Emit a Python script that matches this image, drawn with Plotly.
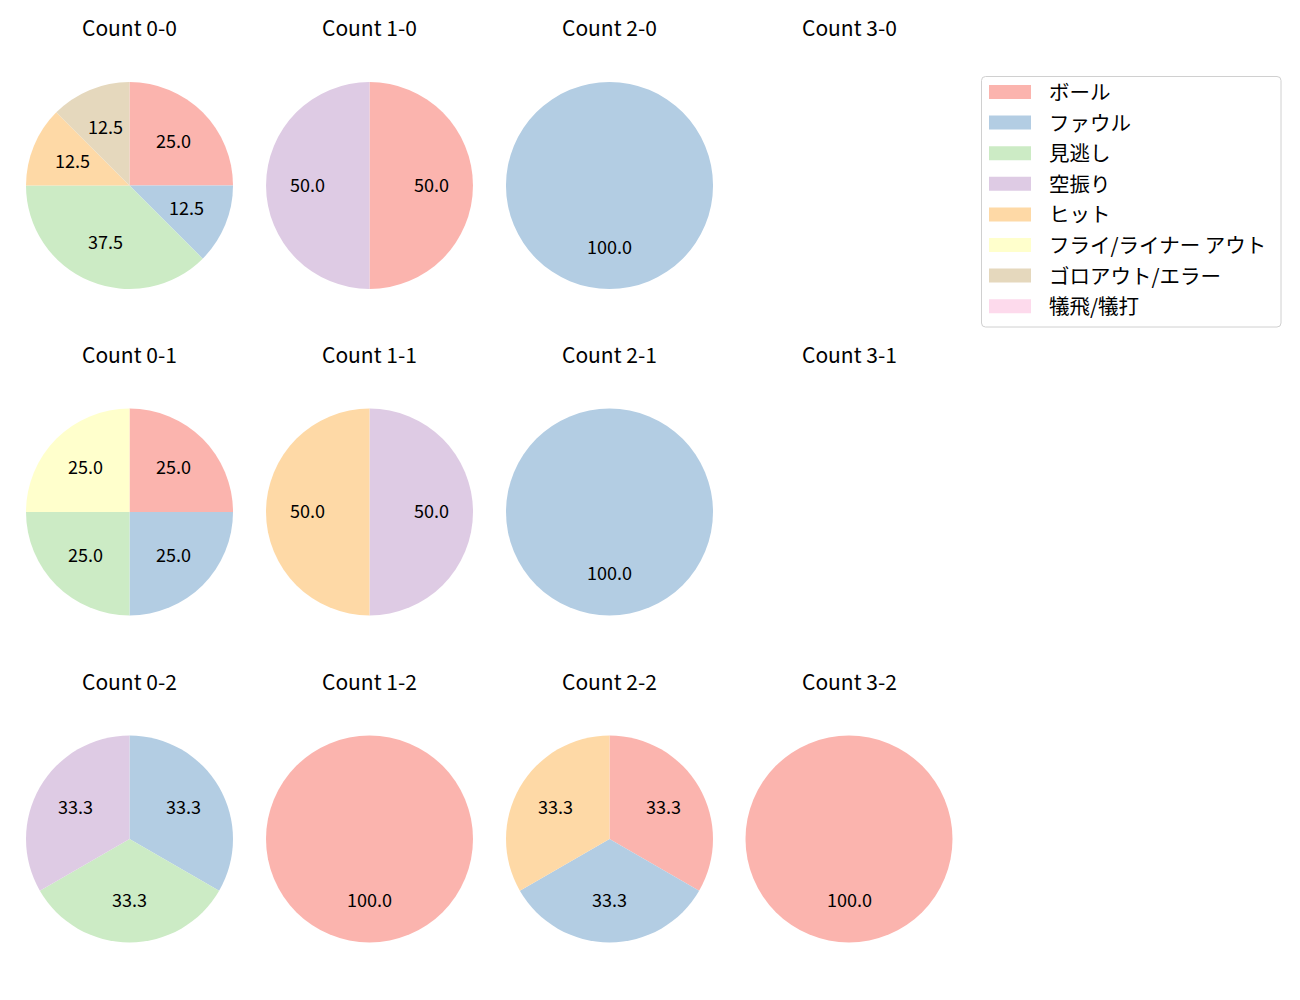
import math
import plotly.graph_objects as go

W, H = 1300, 1000

labels = ["ボール", "ファウル", "見逃し", "空振り", "ヒット",
          "フライ/ライナー アウト", "ゴロアウト/エラー", "犠飛/犠打"]
colors = ["#fbb4ae", "#b3cde3", "#ccebc5", "#decbe4", "#fed9a6",
          "#ffffcc", "#e5d8bd", "#fddaec"]

# counts per pitch-count situation, in label order
count_0_0 = [2, 1, 3, 0, 1, 0, 1, 0]
count_1_0 = [1, 0, 0, 1, 0, 0, 0, 0]
count_2_0 = [0, 1, 0, 0, 0, 0, 0, 0]
count_3_0 = [0, 0, 0, 0, 0, 0, 0, 0]
count_0_1 = [1, 1, 1, 0, 0, 1, 0, 0]
count_1_1 = [0, 0, 0, 1, 1, 0, 0, 0]
count_2_1 = [0, 1, 0, 0, 0, 0, 0, 0]
count_3_1 = [0, 0, 0, 0, 0, 0, 0, 0]
count_0_2 = [0, 1, 1, 1, 0, 0, 0, 0]
count_1_2 = [1, 0, 0, 0, 0, 0, 0, 0]
count_2_2 = [1, 1, 0, 0, 1, 0, 0, 0]
count_3_2 = [1, 0, 0, 0, 0, 0, 0, 0]

panels = [
    ("Count 0-0", count_0_0, 0, 0), ("Count 1-0", count_1_0, 0, 1),
    ("Count 2-0", count_2_0, 0, 2), ("Count 3-0", count_3_0, 0, 3),
    ("Count 0-1", count_0_1, 1, 0), ("Count 1-1", count_1_1, 1, 1),
    ("Count 2-1", count_2_1, 1, 2), ("Count 3-1", count_3_1, 1, 3),
    ("Count 0-2", count_0_2, 2, 0), ("Count 1-2", count_1_2, 2, 1),
    ("Count 2-2", count_2_2, 2, 2), ("Count 3-2", count_3_2, 2, 3),
]

FONT = "Noto Sans CJK JP, Noto Sans, sans-serif"
col_cx = [129.5, 369.5, 609.5, 849]
row_cy = [185.5, 512, 839]
R = 103.5
TITLE_OFF = 157

fig = go.Figure()
annotations = []
shapes = []

def px(x):
    return x / W

def py(y):
    return 1 - y / H

for title, vals, r, c in panels:
    cx, cy = col_cx[c], row_cy[r]
    annotations.append(dict(x=px(cx), y=py(cy - TITLE_OFF), xref="paper", yref="paper",
                            text=title, showarrow=False, xanchor="center", yanchor="middle",
                            yshift=1,
                            font=dict(family=FONT, size=21, color="#000000")))
    total = sum(vals)
    if total == 0:
        continue
    idx = [i for i, v in enumerate(vals) if v > 0]
    fig.add_trace(go.Pie(
        labels=[labels[i] for i in idx],
        values=[vals[i] for i in idx],
        marker=dict(colors=[colors[i] for i in idx], line=dict(width=0)),
        sort=False, direction="clockwise", rotation=0,
        textinfo="none", hoverinfo="label+percent", showlegend=False,
        domain=dict(x=[px(cx - R), px(cx + R)], y=[py(cy + R), py(cy - R)]),
    ))
    # percentage labels at 0.6 radius, at each wedge's mid angle
    acc = 0
    for i in idx:
        v = vals[i]
        mid = (acc + v / 2) / total * 2 * math.pi
        acc += v
        lx = cx + 0.6 * R * math.sin(mid)
        ly = cy - 0.6 * R * math.cos(mid)
        annotations.append(dict(x=px(lx), y=py(ly), xref="paper", yref="paper",
                                text=f"{v / total * 100:.1f}", showarrow=False,
                                xanchor="center", yanchor="middle", yshift=2,
                                font=dict(family=FONT, size=18, color="#000000")))

# legend (drawn manually to match the reference frame)
lx0, lx1, ly0, ly1 = 981.5, 1281, 76.5, 327
rad = 4
path = (f"M{px(lx0+rad)},{py(ly0)} L{px(lx1-rad)},{py(ly0)} "
        f"Q{px(lx1)},{py(ly0)} {px(lx1)},{py(ly0+rad)} L{px(lx1)},{py(ly1-rad)} "
        f"Q{px(lx1)},{py(ly1)} {px(lx1-rad)},{py(ly1)} L{px(lx0+rad)},{py(ly1)} "
        f"Q{px(lx0)},{py(ly1)} {px(lx0)},{py(ly1-rad)} L{px(lx0)},{py(ly0+rad)} "
        f"Q{px(lx0)},{py(ly0)} {px(lx0+rad)},{py(ly0)} Z")
shapes.append(dict(type="path", path=path, xref="paper", yref="paper",
                   line=dict(color="#d0d0d0", width=1), fillcolor="rgba(255,255,255,0.8)"))
row0, step = 92, 30.6
for i, (lab, col) in enumerate(zip(labels, colors)):
    yc = row0 + i * step
    shapes.append(dict(type="rect", xref="paper", yref="paper",
                       x0=px(989), x1=px(1031), y0=py(yc + 7), y1=py(yc - 7),
                       line=dict(width=0), fillcolor=col))
    annotations.append(dict(x=px(1047), y=py(yc), xref="paper", yref="paper",
                            text=lab, showarrow=False, xanchor="left", yanchor="middle",
                            yshift=1,
                            font=dict(family=FONT, size=20.5, color="#000000")))

fig.update_layout(
    width=W, height=H, margin=dict(l=0, r=0, t=0, b=0),
    paper_bgcolor="white", plot_bgcolor="white",
    annotations=annotations, shapes=shapes, showlegend=False,
    font=dict(family=FONT),
)

fig.write_html("out.html")
